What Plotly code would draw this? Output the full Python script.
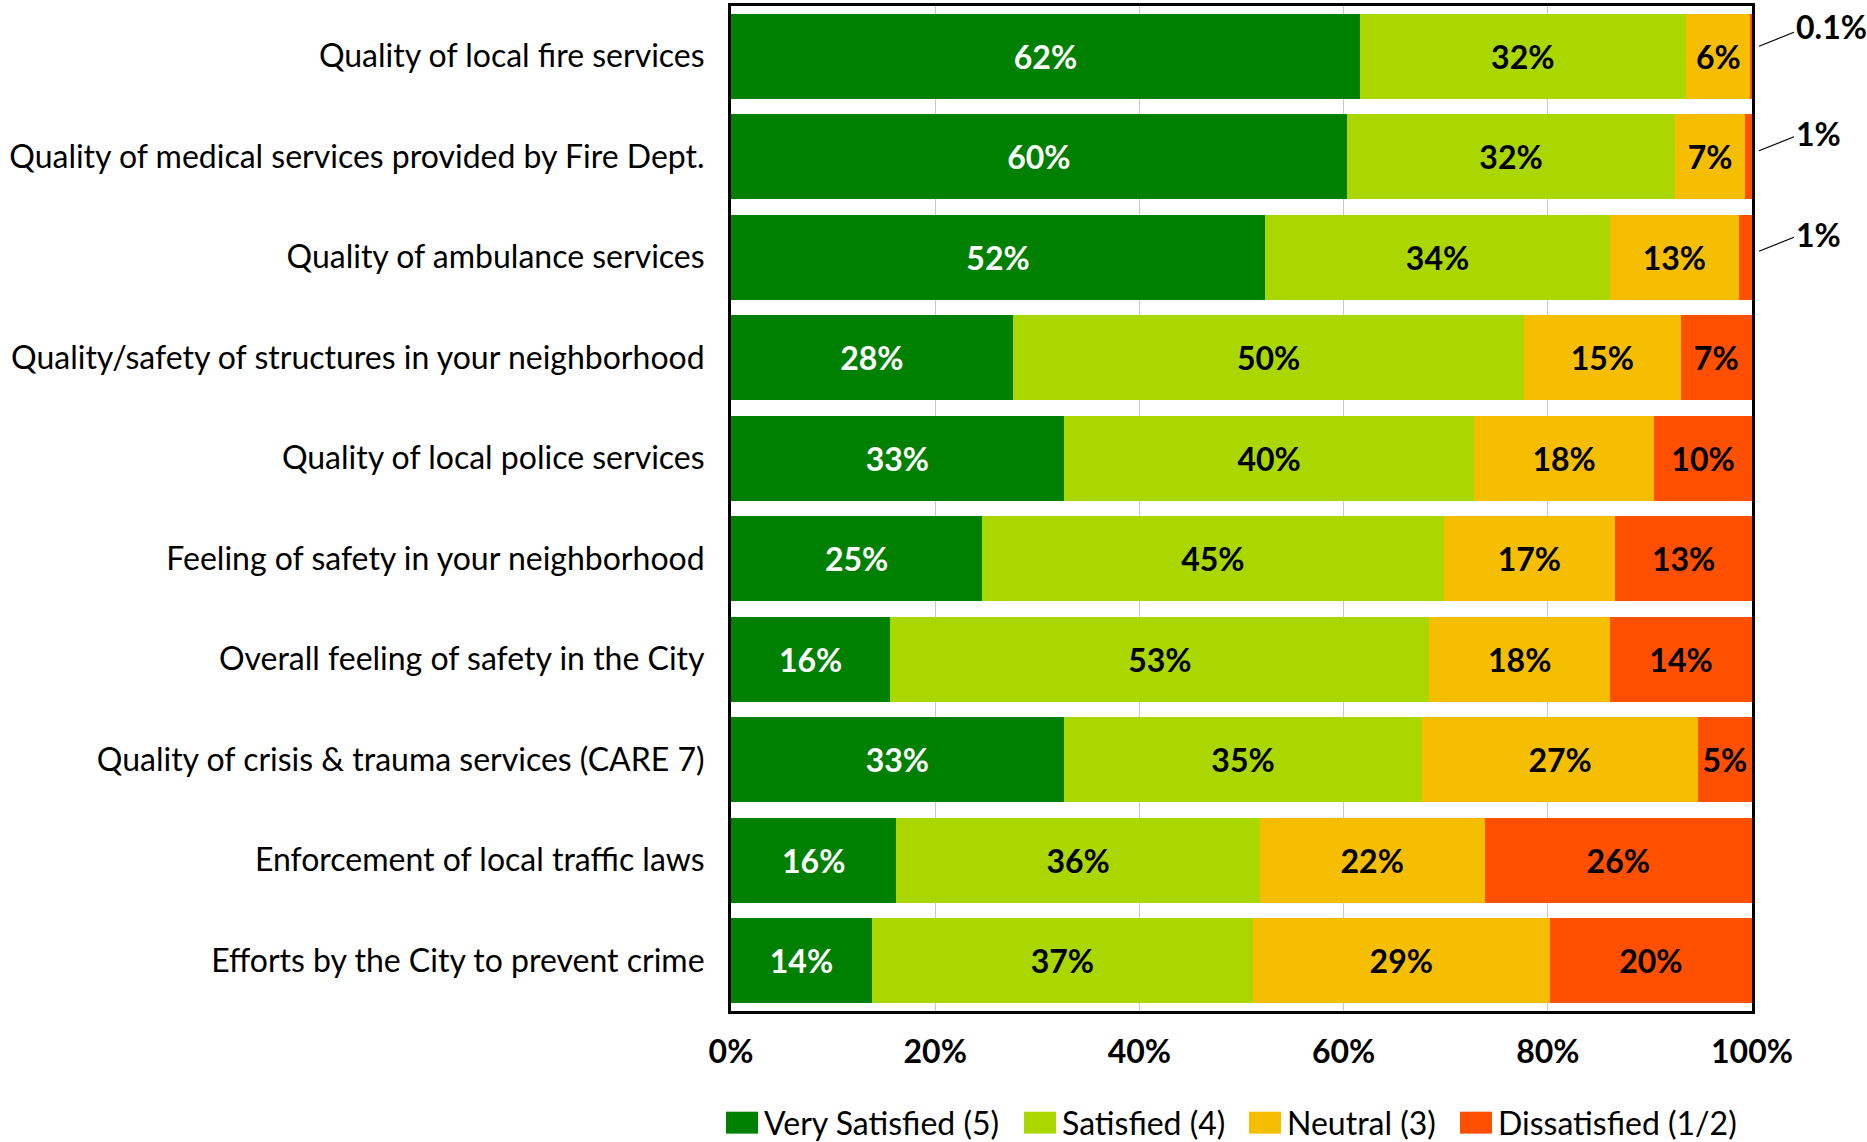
import plotly.graph_objects as go

# Survey items, top to bottom
categories = [
    "Quality of local fire services",
    "Quality of medical services provided by Fire Dept.",
    "Quality of ambulance services",
    "Quality/safety of structures in your neighborhood",
    "Quality of local police services",
    "Feeling of safety in your neighborhood",
    "Overall feeling of safety in the City",
    "Quality of crisis & trauma services (CARE 7)",
    "Enforcement of local traffic laws",
    "Efforts by the City to prevent crime",
]

series_names = ["Very Satisfied (5)", "Satisfied (4)", "Neutral (3)", "Dissatisfied (1/2)"]

# Share of responses (%) per rating
very_satisfied = [61.6, 60.3, 52.3, 27.6, 32.6, 24.6, 15.6, 32.6, 16.2, 13.8]
satisfied = [31.9, 32.2, 33.8, 50.1, 40.2, 45.2, 52.8, 35.1, 35.6, 37.3]
neutral = [6.4, 6.8, 12.6, 15.3, 17.6, 16.8, 17.7, 27.0, 22.0, 29.1]
dissatisfied = [0.1, 0.7, 1.3, 7.0, 9.6, 13.4, 13.9, 5.3, 26.2, 19.8]

x_tick_values = [0, 20, 40, 60, 80, 100]
x_tick_labels = ["0%", "20%", "40%", "60%", "80%", "100%"]

colors = ["#008000", "#AAD700", "#F5BE00", "#FF4F00"]
text_colors = ["white", "black", "black", "black"]

FONT = "Lato"
LABEL_SIZE = 32
VALUE_SIZE = 32

# Plot-area geometry in pixels
W_FIG, H_FIG = 1867, 1142
L, R, T, B = 731, 115, 3, 131
PW = W_FIG - L - R
PH = H_FIG - T - B


def px_x(px):
    return (px - L) / PW


def px_y(py):
    return (H_FIG - B - py) / PH


def fmt(v):
    return f"{v:.1f}%" if v < 0.5 else f"{v:.0f}%"


SMALL = 2.0  # segments narrower than this get a call-out instead of an inside label

fig = go.Figure()
all_series = [very_satisfied, satisfied, neutral, dissatisfied]
for name, vals, col, tcol in zip(series_names, all_series, colors, text_colors):
    fig.add_trace(
        go.Bar(
            y=categories,
            x=vals,
            name=name,
            orientation="h",
            marker=dict(color=col, line=dict(width=0)),
            text=[fmt(v) if v >= SMALL else "" for v in vals],
            textposition="inside",
            insidetextanchor="middle",
            textfont=dict(family=FONT, size=VALUE_SIZE, color=tcol, weight="bold"),
            hoverinfo="skip",
            showlegend=False,
        )
    )

shapes = []
annotations = []

# Call-outs for very small dissatisfied shares: (line end rise, label rise) in px
callout_offsets = [(24, 30), (20, 23), (20, 23)]
small_items = [(cat, v) for cat, v in zip(categories, dissatisfied) if v < SMALL]
for (cat, v), (line_rise, text_rise) in zip(small_items, callout_offsets):
    shapes.append(
        dict(
            type="line",
            xref="paper", yref="y",
            xsizemode="pixel", ysizemode="pixel",
            xanchor=1, yanchor=cat,
            x0=7, x1=42, y0=line_rise - 14, y1=line_rise,
            line=dict(color="black", width=1.3),
        )
    )
    annotations.append(
        dict(
            xref="paper", yref="y",
            x=1, y=cat,
            xshift=42, yshift=text_rise,
            xanchor="left", yanchor="middle",
            text=fmt(v),
            showarrow=False,
            font=dict(family=FONT, size=VALUE_SIZE, color="black", weight="bold"),
        )
    )

# Legend row below the axis
legend_left_px = [726, 1024, 1249, 1460]
sq_w, sq_h = 32, 22
sq_top = 1112
for name, col, lx in zip(series_names, colors, legend_left_px):
    shapes.append(
        dict(
            type="rect",
            xref="paper", yref="paper",
            x0=px_x(lx), x1=px_x(lx + sq_w),
            y0=px_y(sq_top + sq_h), y1=px_y(sq_top),
            fillcolor=col,
            line=dict(width=0),
        )
    )
    annotations.append(
        dict(
            xref="paper", yref="paper",
            x=px_x(lx + sq_w + 4), y=px_y(sq_top + sq_h / 2),
            xanchor="left", yanchor="middle",
            text=name,
            showarrow=False,
            font=dict(family=FONT, size=LABEL_SIZE, color="black"),
        )
    )

fig.update_layout(
    width=W_FIG,
    height=H_FIG,
    autosize=False,
    margin=dict(l=L, r=R, t=T, b=B, pad=0),
    barmode="stack",
    bargap=0.15,
    plot_bgcolor="white",
    paper_bgcolor="white",
    showlegend=False,
    uniformtext=dict(minsize=VALUE_SIZE, mode="show"),
    shapes=shapes,
    annotations=annotations,
    xaxis=dict(
        range=[0, 100],
        tickvals=x_tick_values,
        ticktext=x_tick_labels,
        tickfont=dict(family=FONT, size=VALUE_SIZE, color="black", weight="bold"),
        ticks="",
        ticklabelstandoff=11,
        showgrid=True,
        gridcolor="#C8C8C8",
        gridwidth=1,
        zeroline=False,
        showline=True,
        linecolor="black",
        linewidth=3,
        mirror=True,
        fixedrange=True,
    ),
    yaxis=dict(
        type="category",
        autorange="reversed",
        tickfont=dict(family=FONT, size=LABEL_SIZE, color="black"),
        ticks="",
        ticklabelstandoff=17,
        showgrid=False,
        zeroline=False,
        showline=True,
        linecolor="black",
        linewidth=3,
        mirror=True,
        automargin=False,
        fixedrange=True,
    ),
)

fig.write_html("out.html")
